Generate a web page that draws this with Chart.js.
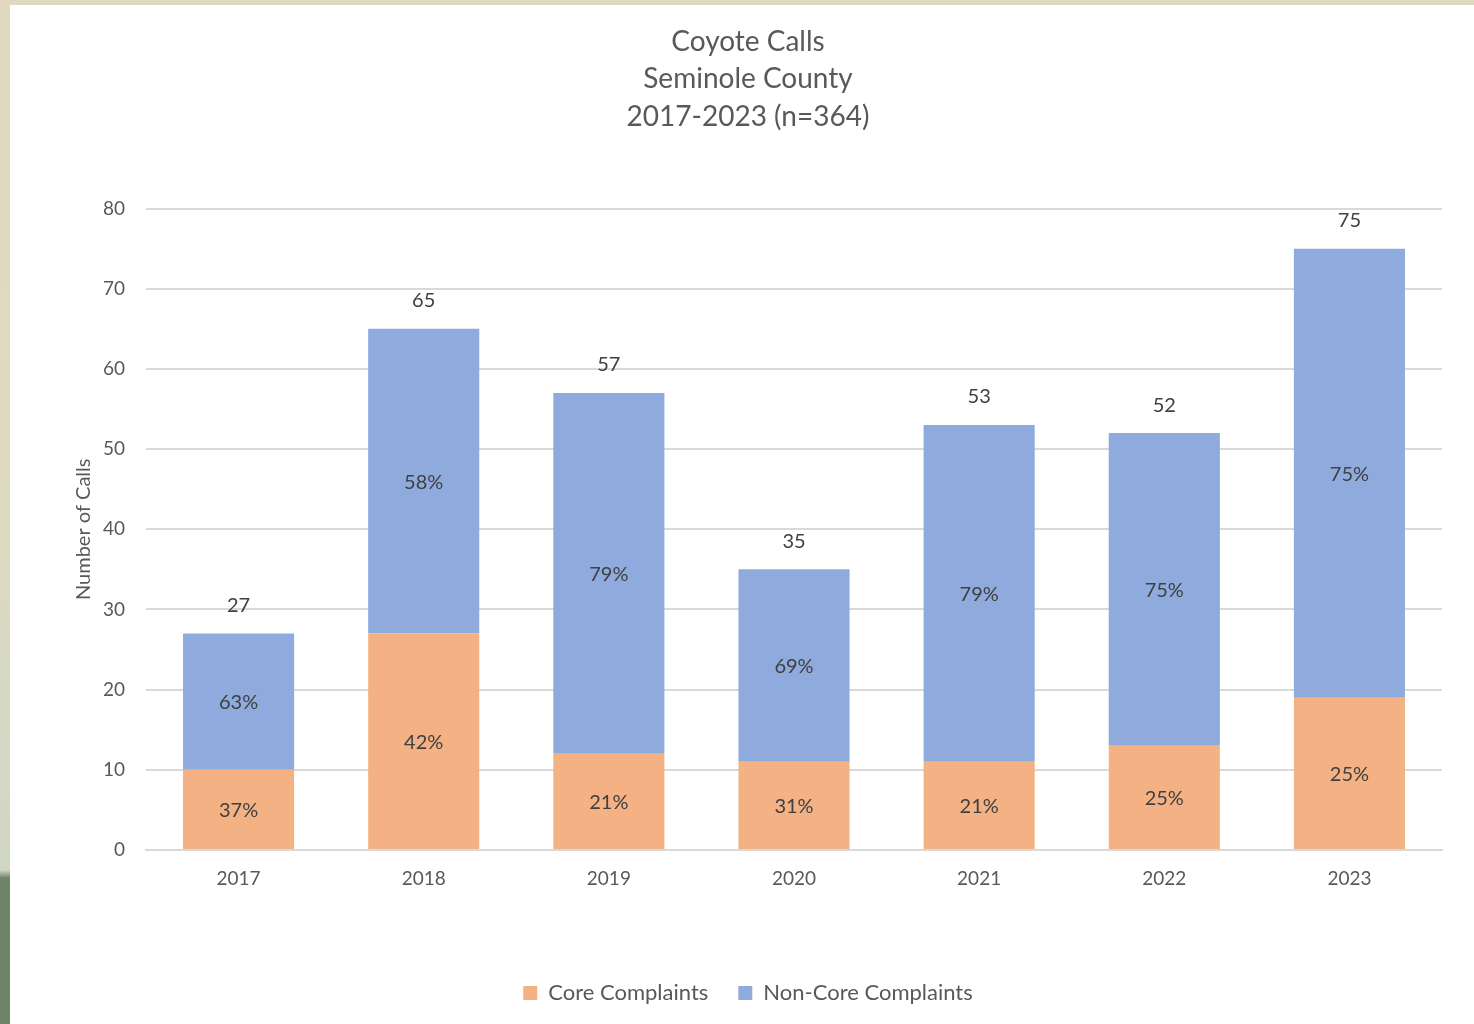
<!DOCTYPE html>
<html>
<head>
<meta charset="utf-8">
<script src="https://cdn.jsdelivr.net/npm/chart.js@4"></script>
<style>
  html, body { margin: 0; padding: 0; }
  body {
    width: 1474px;
    height: 1024px;
    overflow: hidden;
    background: linear-gradient(to bottom, #e0d9c0 0px, #dedac1 500px, #d0d6c4 870px, #6f8466 878px, #6f8466 100%);
    position: relative;
  }
  #wrap {
    position: absolute;
    left: 10px;
    top: 5px;
    width: 1464px;
    height: 1019px;
    background: #fff;
  }
</style>
</head>
<body>
<div id="wrap"><canvas id="chart"></canvas></div>
<script>
const years = ['2017', '2018', '2019', '2020', '2021', '2022', '2023'];
const coreComplaints = [10, 27, 12, 11, 11, 13, 19];
const nonCoreComplaints = [17, 38, 45, 24, 42, 39, 56];
const yTicks = [0, 10, 20, 30, 40, 50, 60, 70, 80];

const totals = years.map((_, i) => coreComplaints[i] + nonCoreComplaints[i]);
const FONT = 'Lato, "Open Sans", sans-serif';
const TEXT = '#595959';

const barLabels = {
  id: 'barLabels',
  afterDatasetsDraw(chart) {
    const ctx = chart.ctx;
    ctx.save();
    ctx.font = `20px ${FONT}`;
    ctx.fillStyle = '#404040';
    ctx.textAlign = 'center';
    ctx.textBaseline = 'middle';
    chart.data.datasets.forEach((ds, i) => {
      chart.getDatasetMeta(i).data.forEach((bar, j) => {
        const pct = Math.round((ds.data[j] / totals[j]) * 100) + '%';
        ctx.fillText(pct, bar.x, (bar.y + bar.base) / 2 + 1);
      });
    });
    chart.getDatasetMeta(1).data.forEach((bar, j) => {
      ctx.fillText(String(totals[j]), bar.x, bar.y - 28);
    });
    ctx.restore();
  },
};

new Chart(document.getElementById('chart'), {
  type: 'bar',
  data: {
    labels: years,
    datasets: [
      {
        label: 'Core Complaints',
        data: coreComplaints,
        backgroundColor: '#F4B183',
        barPercentage: 0.6,
        categoryPercentage: 1,
      },
      {
        label: 'Non-Core Complaints',
        data: nonCoreComplaints,
        backgroundColor: '#8FAADC',
        barPercentage: 0.6,
        categoryPercentage: 1,
      },
    ],
  },
  options: {
    responsive: true,
    maintainAspectRatio: false,
    animation: false,
    layout: { padding: { left: 44, right: 32, top: 16, bottom: 10 } },
    plugins: {
      title: {
        display: true,
        text: ['Coyote Calls', 'Seminole County', '2017-2023 (n=364)'],
        color: TEXT,
        font: { family: FONT, size: 28, weight: 'normal', lineHeight: 1.34 },
        padding: { top: 2, bottom: 73 },
      },
      legend: {
        position: 'bottom',
        labels: {
          color: TEXT,
          font: { family: FONT, size: 22 },
          boxWidth: 14,
          boxHeight: 14,
          padding: 30,
        },
      },
      tooltip: { enabled: false },
    },
    scales: {
      x: {
        stacked: true,
        grid: { display: false },
        border: { color: '#D9D9D9', width: 2 },
        ticks: { color: TEXT, font: { family: FONT, size: 19 }, padding: 9 },
        afterFit: (scale) => { scale.height = 102; },
      },
      y: {
        stacked: true,
        min: 0,
        max: 80,
        afterBuildTicks: (scale) => { scale.ticks = yTicks.map((v) => ({ value: v })); },
        grid: { color: '#D9D9D9', lineWidth: 2, drawTicks: false },
        border: { display: false },
        ticks: { color: TEXT, font: { family: FONT, size: 19 }, padding: 21 },
        title: {
          display: true,
          text: 'Number of Calls',
          color: TEXT,
          font: { family: FONT, size: 20 },
          padding: { top: 18, bottom: 0 },
        },
        afterFit: (scale) => { scale.width = 92; },
      },
    },
  },
  plugins: [barLabels],
});
</script>
</body>
</html>
